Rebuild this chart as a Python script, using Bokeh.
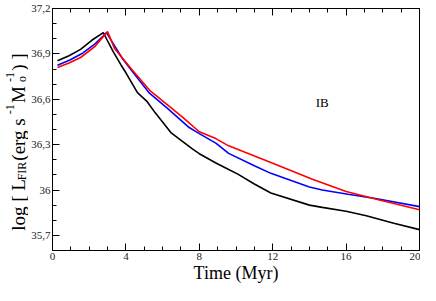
import math
from bokeh.plotting import figure
from bokeh.layouts import row
from bokeh.models import FixedTicker, LinearAxis, Label, Range1d
from bokeh.core.properties import value
from bokeh.embed import file_html
from bokeh.resources import INLINE

# ---------------- data ----------------
black_t = [0.27, 0.9, 1.53, 2.14, 2.77, 2.94, 3.3, 3.74, 4.0, 4.63, 5.16, 5.6, 6.45, 7.64, 8.0, 8.88, 9.6, 10.1, 11.0, 11.9, 14.0, 14.7, 16.0, 17.1, 18.6, 20.0]
black_v = [36.854, 36.888, 36.93, 36.99, 37.04, 37.0, 36.916, 36.825, 36.775, 36.644, 36.584, 36.51, 36.38, 36.27, 36.24, 36.18, 36.135, 36.105, 36.04, 35.98, 35.90, 35.885, 35.86, 35.83, 35.78, 35.738]

blue_t = [0.27, 0.95, 1.66, 2.32, 2.94, 3.47, 3.83, 4.28, 5.25, 6.22, 7.45, 8.0, 8.9, 9.6, 11.0, 11.9, 14.0, 14.7, 16.1, 17.6, 20.0]
blue_v = [36.825, 36.86, 36.906, 36.966, 37.04, 36.936, 36.866, 36.795, 36.644, 36.544, 36.413, 36.373, 36.31, 36.242, 36.16, 36.11, 36.02, 36.0, 35.972, 35.944, 35.89]

red_t = [0.27, 0.9, 1.53, 2.32, 3.0, 3.38, 4.3, 5.33, 6.2, 7.1, 8.0, 8.9, 9.6, 11.9, 14.2, 16.0, 17.6, 20.0]
red_v = [36.81, 36.84, 36.876, 36.95, 37.047, 36.936, 36.80, 36.655, 36.57, 36.48, 36.385, 36.34, 36.292, 36.182, 36.07, 35.99, 35.94, 35.87]

x_ticks = [0, 4, 8, 12, 16, 20]
x_minor = list(range(0, 21))
y_ticks = [35.7, 36.0, 36.3, 36.6, 36.9, 37.2]
y_tick_labels = ["35,7", "36", "36,3", "36,6", "36,9", "37,2"]
y_minor = [35.6, 35.7, 35.8, 35.9, 36.0, 36.1, 36.2, 36.3, 36.4, 36.5, 36.6, 36.7, 36.8, 36.9, 37.0, 37.1, 37.2]

panel_label = "IB"
x_label = "Time (Myr)"
# y label pieces: (text, role)
y_label_parts = [("log [ L", "main"), ("FIR", "sub"), (" (erg s", "main"), ("-1", "sup"),
                 (" M", "main"), ("o", "subnoadv"), ("-1", "sup"), (" ) ]", "main")]

FONT = "Liberation Serif"

# ---------------- main figure ----------------
LW = 28           # width of the y-label strip
W, H = 420 - LW, 285
FL, FR, FT = 17, 1, 8
p = figure(width=W, height=H, x_range=Range1d(0, 20), y_range=Range1d(35.6, 37.2),
           output_backend="svg", toolbar_location=None,
           min_border_left=FL, min_border_right=FR, min_border_top=FT, min_border_bottom=0,
           x_axis_location=None, y_axis_location=None)
p.xgrid.visible = False
p.ygrid.visible = False
p.outline_line_color = "black"
p.outline_line_width = 1
p.background_fill_color = "white"
p.border_fill_color = "white"

def style_axis(ax):
    ax.axis_line_color = "black"
    ax.axis_line_width = 1
    ax.major_tick_line_color = "black"
    ax.minor_tick_line_color = "black"
    ax.major_tick_in = 7
    ax.major_tick_out = 0
    ax.minor_tick_in = 4
    ax.minor_tick_out = 0
    ax.major_label_text_font = FONT
    ax.major_label_text_font_size = "11px"
    ax.major_label_text_color = "#222222"
    ax.major_label_standoff = 2

xax = LinearAxis(ticker=FixedTicker(ticks=x_ticks, minor_ticks=x_minor))
style_axis(xax)
xax.axis_label = x_label
xax.axis_label_text_font = FONT
xax.axis_label_text_font_size = "18px"
xax.axis_label_text_font_style = "normal"
xax.axis_label_text_color = "black"
xax.axis_label_standoff = 0
p.add_layout(xax, "below")

# top ticks without labels
top = LinearAxis(ticker=FixedTicker(ticks=x_ticks, minor_ticks=x_minor))
style_axis(top)
top.major_label_text_font_size = "0px"
top.major_label_text_color = None
top.major_label_standoff = 0
p.add_layout(top, "above")

yax = LinearAxis(ticker=FixedTicker(ticks=y_ticks, minor_ticks=y_minor),
                 major_label_overrides={t: s for t, s in zip(y_ticks, y_tick_labels)})
style_axis(yax)
p.add_layout(yax, "left")

# ---------------- curves ----------------
p.line(black_t, black_v, line_color="black", line_width=1.6)
p.line(blue_t, blue_v, line_color="#0000ff", line_width=1.6)
p.line(red_t, red_v, line_color="#ff0000", line_width=1.6)

p.add_layout(Label(x=14.7, y=36.576, text=panel_label, text_font=FONT,
                   text_font_size="13px", text_align="center", text_baseline="middle",
                   text_color="black"))

# ---------------- y-label strip (rotated text with sub/superscripts) ----------------
# the strip's frame is aligned with the main frame by the row layout, so it shares y_range
lf = figure(width=LW, height=H, x_range=Range1d(0, LW), y_range=p.y_range,
            output_backend="svg", toolbar_location=None,
            min_border_left=0, min_border_right=0, min_border_top=FT, min_border_bottom=0,
            x_axis_location=None, y_axis_location=None)
lf.xgrid.visible = False
lf.ygrid.visible = False
lf.outline_line_color = None
lf.background_fill_color = "white"
lf.border_fill_color = "white"

EM = {"l": .278, "o": .5, "g": .5, " ": .25, "[": .333, "L": .611, "F": .556, "I": .333,
      "R": .667, "(": .333, "e": .444, "r": .333, "s": .389, "-": .333, "1": .5,
      "M": .889, ")": .333, "]": .333}
def width(s, size):
    return sum(EM.get(c, .5) for c in s) * size

MAIN, SMALL = 19, 12
PXU = 248.0 / 1.6                     # approx. pixels per unit of y in the frame
role_x = {"main": 17.5, "sub": 21.5, "subnoadv": 21.5, "sup": 9.5}
total = sum(width(t, MAIN if r == "main" else SMALL) for t, r in y_label_parts if r != "subnoadv")
off = total / 2 + 13                  # pixels below frame centre where the label starts
xs, ys, texts, sizes = [], [], [], []
for text, role in y_label_parts:
    size = MAIN if role == "main" else SMALL
    xs.append(role_x[role])
    ys.append(36.4 - off / PXU)
    texts.append(text)
    sizes.append(f"{size}px")
    if role != "subnoadv":
        off -= width(text, size) + (1.5 if role != "main" else 0)

lf.text(x=xs, y=ys, text=texts, angle=math.pi / 2, text_font=value(FONT),
        text_font_size=sizes, text_align="left", text_baseline="alphabetic",
        text_color="black")

layout = row(lf, p, spacing=0)
open("out.html", "w").write(file_html(layout, INLINE))
